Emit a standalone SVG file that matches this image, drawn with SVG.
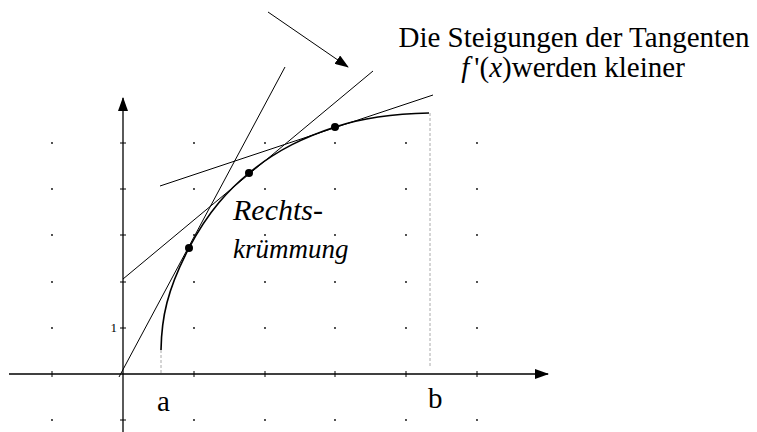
<svg xmlns="http://www.w3.org/2000/svg" width="757" height="432" viewBox="0 0 757 432">
<style>
.dot{fill:#000}
.axis{stroke:#000;stroke-width:1.3;fill:none}
.tick{stroke:#000;stroke-width:1}
.tan{stroke:#000;stroke-width:1;fill:none}
.curve{stroke:#000;stroke-width:1.6;fill:none}
.guide{stroke:#aaa;stroke-width:1;stroke-dasharray:3,2;fill:none}
.lbl{font-family:"Liberation Serif","Times New Roman",serif;fill:#000}
</style>
<defs>
<marker id="ah" markerWidth="14" markerHeight="10" refX="13" refY="5" orient="auto" markerUnits="userSpaceOnUse">
<path d="M0,0 L14,5 L0,10 Z" fill="#000"/>
</marker>
</defs>
<rect width="757" height="432" fill="#fff"/>
<g id="grid">
<g class="dot">
<circle cx="52" cy="143" r="0.9"/><circle cx="194" cy="143" r="0.9"/><circle cx="265" cy="143" r="0.9"/><circle cx="335" cy="143" r="0.9"/><circle cx="406" cy="143" r="0.9"/><circle cx="477" cy="143" r="0.9"/>
<circle cx="52" cy="189" r="0.9"/><circle cx="194" cy="189" r="0.9"/><circle cx="265" cy="189" r="0.9"/><circle cx="335" cy="189" r="0.9"/><circle cx="406" cy="189" r="0.9"/><circle cx="477" cy="189" r="0.9"/>
<circle cx="52" cy="235" r="0.9"/><circle cx="194" cy="235" r="0.9"/><circle cx="265" cy="235" r="0.9"/><circle cx="335" cy="235" r="0.9"/><circle cx="406" cy="235" r="0.9"/><circle cx="477" cy="235" r="0.9"/>
<circle cx="52" cy="282" r="0.9"/><circle cx="194" cy="282" r="0.9"/><circle cx="265" cy="282" r="0.9"/><circle cx="335" cy="282" r="0.9"/><circle cx="406" cy="282" r="0.9"/><circle cx="477" cy="282" r="0.9"/>
<circle cx="52" cy="328" r="0.9"/><circle cx="194" cy="328" r="0.9"/><circle cx="265" cy="328" r="0.9"/><circle cx="335" cy="328" r="0.9"/><circle cx="406" cy="328" r="0.9"/><circle cx="477" cy="328" r="0.9"/>
<circle cx="52" cy="420" r="0.9"/><circle cx="194" cy="420" r="0.9"/><circle cx="265" cy="420" r="0.9"/><circle cx="335" cy="420" r="0.9"/><circle cx="406" cy="420" r="0.9"/><circle cx="477" cy="420" r="0.9"/>
</g>
</g>
<g id="axes">
<line class="axis" x1="9" y1="374" x2="548" y2="374" marker-end="url(#ah)"/>
<line class="axis" x1="123" y1="432" x2="123" y2="98" marker-end="url(#ah)"/>
<g class="tick">
<line x1="120" y1="143" x2="126" y2="143"/><line x1="120" y1="189" x2="126" y2="189"/><line x1="120" y1="235" x2="126" y2="235"/><line x1="120" y1="282" x2="126" y2="282"/><line x1="120" y1="328" x2="126" y2="328"/><line x1="120" y1="420" x2="126" y2="420"/>
<line x1="52" y1="371" x2="52" y2="377"/><line x1="194" y1="371" x2="194" y2="377"/><line x1="265" y1="371" x2="265" y2="377"/><line x1="335" y1="371" x2="335" y2="377"/><line x1="406" y1="371" x2="406" y2="377"/><line x1="477" y1="371" x2="477" y2="377"/>
</g>
<text class="lbl" x="117" y="332" font-size="13" text-anchor="end" fill="#222">1</text>
</g>
<g id="guides">
<line class="guide" x1="161" y1="350" x2="161" y2="374"/>
<line class="guide" x1="430" y1="113" x2="430" y2="367"/>
</g>
<g id="connectors">
<line class="tan" x1="119" y1="377" x2="285" y2="67"/>
<line class="tan" x1="123" y1="279" x2="373" y2="71"/>
<line class="tan" x1="160" y1="186" x2="433" y2="95"/>
<line class="tan" x1="268" y1="12" x2="348" y2="67" marker-end="url(#ah)"/>
</g>
<g id="curve">
<path class="curve" d="M161,350 C161.5,318 167,290 189,248 C209,210.2 229,189.6 249,173 C277.7,149.1 306.3,136.6 335,127 C366,116.7 397,113.6 429,113"/>
</g>
<g id="points" class="dot">
<circle cx="189" cy="248" r="4"/>
<circle cx="249" cy="173" r="4"/>
<circle cx="335" cy="127" r="4"/>
</g>
<g id="label-title">
<text class="lbl" x="574" y="47" font-size="29" text-anchor="middle">Die Steigungen der Tangenten</text>
<text class="lbl" x="573" y="77" font-size="29" text-anchor="middle"><tspan font-style="italic">f</tspan><tspan dx="5">'(</tspan><tspan font-style="italic">x</tspan>)werden kleiner</text>
</g>
<g id="label-curvature">
<text class="lbl" x="233" y="220" font-size="30" font-style="italic">Rechts-</text>
<text class="lbl" x="233" y="258" font-size="27" font-style="italic">krümmung</text>
</g>
<g id="label-a"><text class="lbl" x="157" y="411" font-size="29">a</text></g>
<g id="label-b"><text class="lbl" x="428" y="408" font-size="29">b</text></g>
</svg>
